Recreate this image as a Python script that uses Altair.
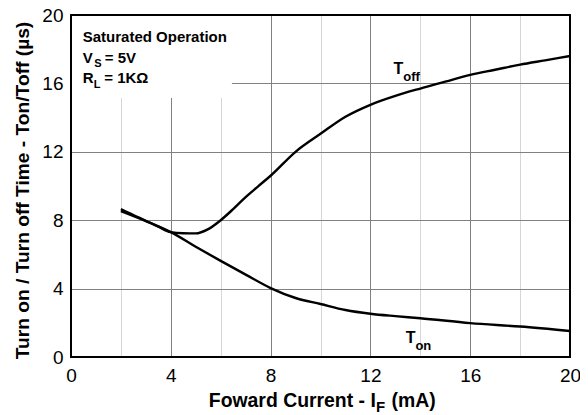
import altair as alt
import pandas as pd

# ---- data ----
toff_x = [2, 2.5, 3, 3.5, 4, 4.5, 5, 5.5, 6, 6.5, 7, 7.5, 8, 9, 10, 11, 12, 13, 14, 15, 16, 17, 18, 19, 20]
toff_y = [8.65, 8.3, 7.97, 7.62, 7.3, 7.24, 7.23, 7.48, 8.0, 8.65, 9.35, 9.98, 10.6, 12.0, 13.05, 14.05, 14.75,
          15.27, 15.7, 16.1, 16.5, 16.8, 17.1, 17.35, 17.6]
ton_x = [2, 3, 4, 5, 6, 7, 8, 9, 10, 11, 12, 13, 14, 16, 18, 20]
ton_y = [8.53, 7.95, 7.3, 6.45, 5.62, 4.82, 4.03, 3.45, 3.1, 2.75, 2.53, 2.39, 2.27, 1.98, 1.78, 1.52]

x_grid = list(range(0, 21, 1))
y_grid = list(range(0, 21, 2))

y_title = "Turn on / Turn off Time - Ton/Toff (µs)"

FONT = "Liberation Sans"
W, H = 499, 342

df = pd.concat([
    pd.DataFrame({"x": toff_x, "y": toff_y, "s": "Toff"}),
    pd.DataFrame({"x": ton_x, "y": ton_y, "s": "Ton"}),
])

xs = alt.Scale(domain=[0, 20], nice=False, zero=False)
ys = alt.Scale(domain=[0, 20], nice=False, zero=False)

grid_cond = alt.condition("datum.value % 4 === 0", alt.value("#808080"), alt.value("#d6d6d6"))

lines = alt.Chart(df).mark_line(color="black", strokeWidth=2.4, interpolate="monotone").encode(
    x=alt.X("x:Q", scale=xs, axis=alt.Axis(
        values=x_grid, title=None, grid=True, gridColor=grid_cond, gridWidth=1,
        ticks=False, domain=False, labelExpr="datum.value % 4 === 0 ? datum.label : ''",
        labelFont=FONT, labelFontSize=19, labelColor="black", labelPadding=9,
        labelFlush=False)),
    y=alt.Y("y:Q", scale=ys, axis=alt.Axis(
        values=y_grid, title=y_title, grid=True, gridColor=grid_cond, gridWidth=1,
        ticks=False, domain=False, labelExpr="datum.value % 4 === 0 ? datum.label : ''",
        labelFont=FONT, labelFontSize=19, labelColor="black", labelPadding=8,
        labelFlush=False,
        titleFont=FONT, titleFontSize=19.2, titleFontWeight="bold", titleColor="black",
        titleAngle=270, titleX=-49, titleY=175, titleAlign="center", titleBaseline="middle")),
    detail="s:N",
)

one = pd.DataFrame({"a": [0]})

box = alt.Chart(one).mark_rect(fill="white").encode(
    x=alt.datum(0), x2=alt.datum(6.45),
    y=alt.datum(15.15), y2=alt.datum(20),
)


def txt(x, y, s, size, dx=0, dy=0, weight="bold"):
    return alt.Chart(one).mark_text(
        text=s, font=FONT, fontSize=size, fontWeight=weight, color="black",
        align="left", baseline="alphabetic", dx=dx, dy=dy,
    ).encode(x=alt.datum(x), y=alt.datum(y))


def ptxt(x, y, s, size, weight="bold"):
    return alt.Chart(one).mark_text(
        text=s, font=FONT, fontSize=size, fontWeight=weight, color="black",
        align="left", baseline="alphabetic",
    ).encode(x=alt.value(x), y=alt.value(y))


notes = [
    txt(0.47, 18.42, "Saturated Operation", 15),
    txt(0.47, 17.19, "V", 15),
    txt(0.47, 17.19, "S", 11, dx=11.5, dy=4),
    txt(0.47, 17.19, "= 5V", 15, dx=22),
    txt(0.47, 16.02, "R", 15),
    txt(0.47, 16.02, "L", 11, dx=11, dy=5),
    txt(0.47, 16.02, "= 1KΩ", 15, dx=21.5),
    txt(12.93, 16.55, "T", 16),
    txt(12.93, 16.55, "off", 13, dx=9.6, dy=7),
    txt(13.42, 0.82, "T", 16),
    txt(13.42, 0.82, "on", 13, dx=9.6, dy=6.7),
    ptxt(137.8, 392, "Foward Current - I", 19.4),
    ptxt(305.0, 397, "F", 15),
    ptxt(320.5, 392, "(mA)", 19.4),
]

frame = alt.Chart(one).mark_rect(fillOpacity=0, stroke="black", strokeWidth=2).encode(
    x=alt.value(0), x2=alt.value(W), y=alt.value(0), y2=alt.value(H)
)

chart = alt.layer(lines, box, *notes, frame).properties(
    width=W, height=H,
    autosize=alt.AutoSizeParams(type="none"),
    padding={"left": 63, "top": 7, "right": 10, "bottom": 57},
).configure_view(stroke=None).configure(background="white")

chart.save("out.html", embed_options={"renderer": "svg", "actions": False})
